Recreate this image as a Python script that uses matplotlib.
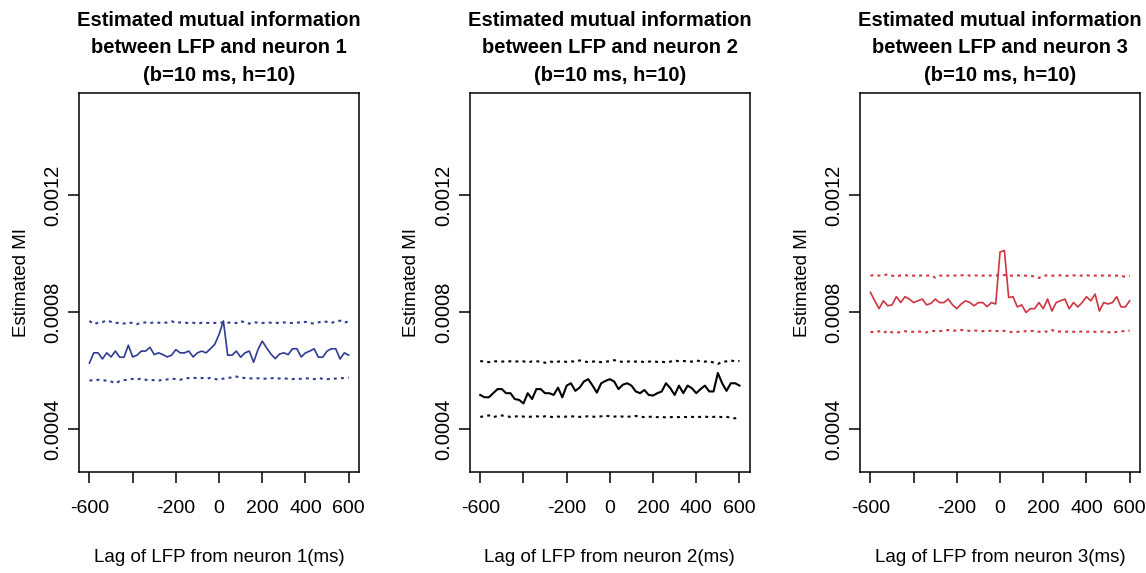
import numpy as np
import matplotlib
matplotlib.use("Agg")
import matplotlib.pyplot as plt

plt.rcParams["font.family"] = ["Liberation Sans", "DejaVu Sans"]

# lag grid (ms)
lags = np.arange(-600, 601, 20)

# neuron 1: estimated MI and the two surrogate bounds
mi_n1 = [0.000625, 0.000660, 0.000660, 0.000639, 0.000660, 0.000646, 0.000666, 0.000645, 0.000645, 0.000686,
         0.000646, 0.000652, 0.000666, 0.000666, 0.000679, 0.000654, 0.000660, 0.000654, 0.000646, 0.000652,
         0.000671, 0.000660, 0.000660, 0.000666, 0.000646, 0.000660, 0.000666, 0.000660, 0.000674, 0.000689,
         0.000723, 0.000769, 0.000652, 0.000652, 0.000666, 0.000645, 0.000660, 0.000666, 0.000628, 0.000671,
         0.000700, 0.000677, 0.000656, 0.000640, 0.000656, 0.000660, 0.000654, 0.000674, 0.000674, 0.000646,
         0.000660, 0.000666, 0.000674, 0.000645, 0.000645, 0.000666, 0.000674, 0.000674, 0.000639, 0.000660,
         0.000652]
hi_n1 = [0.000769, 0.000758, 0.000763, 0.000765, 0.000771, 0.000766, 0.000762, 0.000763, 0.000760, 0.000764,
         0.000762, 0.000758, 0.000763, 0.000764, 0.000762, 0.000764, 0.000763, 0.000762, 0.000764, 0.000768,
         0.000763, 0.000764, 0.000763, 0.000762, 0.000763, 0.000760, 0.000763, 0.000762, 0.000763, 0.000762,
         0.000764, 0.000763, 0.000763, 0.000764, 0.000762, 0.000769, 0.000763, 0.000760, 0.000765, 0.000763,
         0.000762, 0.000764, 0.000763, 0.000763, 0.000762, 0.000764, 0.000763, 0.000762, 0.000764, 0.000763,
         0.000766, 0.000762, 0.000760, 0.000764, 0.000768, 0.000766, 0.000762, 0.000768, 0.000770, 0.000763,
         0.000768]
lo_n1 = [0.000565, 0.000567, 0.000568, 0.000566, 0.000565, 0.000562, 0.000556, 0.000563, 0.000567, 0.000568,
         0.000571, 0.000569, 0.000572, 0.000568, 0.000566, 0.000567, 0.000565, 0.000568, 0.000569, 0.000572,
         0.000570, 0.000568, 0.000572, 0.000574, 0.000575, 0.000573, 0.000574, 0.000572, 0.000574, 0.000571,
         0.000568, 0.000572, 0.000574, 0.000576, 0.000579, 0.000575, 0.000574, 0.000573, 0.000572, 0.000573,
         0.000571, 0.000572, 0.000573, 0.000574, 0.000572, 0.000573, 0.000571, 0.000570, 0.000572, 0.000571,
         0.000573, 0.000572, 0.000570, 0.000574, 0.000571, 0.000570, 0.000571, 0.000572, 0.000573, 0.000574,
         0.000575]

# neuron 2
mi_n2 = [0.000516, 0.000508, 0.000508, 0.000522, 0.000536, 0.000536, 0.000522, 0.000522, 0.000502, 0.000499,
         0.000487, 0.000522, 0.000502, 0.000536, 0.000536, 0.000522, 0.000522, 0.000516, 0.000541, 0.000508,
         0.000548, 0.000556, 0.000530, 0.000541, 0.000562, 0.000570, 0.000548, 0.000524, 0.000556, 0.000564,
         0.000570, 0.000562, 0.000536, 0.000551, 0.000556, 0.000548, 0.000528, 0.000522, 0.000533, 0.000516,
         0.000514, 0.000522, 0.000528, 0.000556, 0.000539, 0.000516, 0.000548, 0.000522, 0.000548, 0.000539,
         0.000522, 0.000536, 0.000548, 0.000528, 0.000528, 0.000591, 0.000556, 0.000530, 0.000556, 0.000556,
         0.000548]
hi_n2 = [0.000632, 0.000630, 0.000628, 0.000631, 0.000631, 0.000630, 0.000631, 0.000631, 0.000630, 0.000631,
         0.000631, 0.000627, 0.000631, 0.000631, 0.000630, 0.000626, 0.000631, 0.000628, 0.000630, 0.000631,
         0.000629, 0.000631, 0.000630, 0.000634, 0.000631, 0.000628, 0.000630, 0.000631, 0.000628, 0.000630,
         0.000631, 0.000635, 0.000631, 0.000629, 0.000630, 0.000631, 0.000630, 0.000631, 0.000628, 0.000630,
         0.000631, 0.000629, 0.000630, 0.000627, 0.000630, 0.000634, 0.000631, 0.000632, 0.000631, 0.000630,
         0.000634, 0.000631, 0.000630, 0.000631, 0.000627, 0.000622, 0.000629, 0.000631, 0.000634, 0.000631,
         0.000632]
lo_n2 = [0.000441, 0.000443, 0.000446, 0.000440, 0.000444, 0.000446, 0.000443, 0.000441, 0.000442, 0.000444,
         0.000442, 0.000441, 0.000442, 0.000443, 0.000441, 0.000443, 0.000442, 0.000440, 0.000442, 0.000441,
         0.000442, 0.000443, 0.000442, 0.000441, 0.000442, 0.000443, 0.000442, 0.000441, 0.000443, 0.000445,
         0.000443, 0.000442, 0.000443, 0.000442, 0.000441, 0.000443, 0.000444, 0.000442, 0.000440, 0.000441,
         0.000442, 0.000440, 0.000441, 0.000439, 0.000440, 0.000441, 0.000440, 0.000441, 0.000440, 0.000441,
         0.000440, 0.000441, 0.000442, 0.000440, 0.000441, 0.000442, 0.000440, 0.000441, 0.000438, 0.000436,
         0.000440]

# neuron 3
mi_n3 = [0.000867, 0.000838, 0.000811, 0.000838, 0.000821, 0.000824, 0.000852, 0.000832, 0.000852, 0.000844,
         0.000832, 0.000838, 0.000844, 0.000824, 0.000829, 0.000844, 0.000832, 0.000832, 0.000844, 0.000824,
         0.000811, 0.000827, 0.000838, 0.000832, 0.000821, 0.000832, 0.000832, 0.000818, 0.000832, 0.000827,
         0.001005, 0.001010, 0.000849, 0.000852, 0.000817, 0.000824, 0.000798, 0.000811, 0.000811, 0.000832,
         0.000811, 0.000844, 0.000803, 0.000832, 0.000838, 0.000844, 0.000811, 0.000832, 0.000817, 0.000832,
         0.000852, 0.000838, 0.000861, 0.000803, 0.000832, 0.000827, 0.000832, 0.000852, 0.000817, 0.000817,
         0.000838]
hi_n3 = [0.000924, 0.000926, 0.000924, 0.000925, 0.000929, 0.000924, 0.000921, 0.000925, 0.000926, 0.000923,
         0.000924, 0.000925, 0.000924, 0.000924, 0.000925, 0.000917, 0.000924, 0.000924, 0.000924, 0.000925,
         0.000924, 0.000925, 0.000926, 0.000924, 0.000925, 0.000924, 0.000924, 0.000925, 0.000924, 0.000925,
         0.000924, 0.000926, 0.000924, 0.000924, 0.000925, 0.000924, 0.000924, 0.000925, 0.000920, 0.000916,
         0.000924, 0.000925, 0.000924, 0.000924, 0.000925, 0.000924, 0.000923, 0.000925, 0.000924, 0.000924,
         0.000925, 0.000924, 0.000924, 0.000925, 0.000924, 0.000924, 0.000925, 0.000924, 0.000923, 0.000920,
         0.000924]
lo_n3 = [0.000732, 0.000730, 0.000734, 0.000728, 0.000736, 0.000730, 0.000728, 0.000732, 0.000734, 0.000732,
         0.000732, 0.000733, 0.000732, 0.000730, 0.000734, 0.000735, 0.000734, 0.000737, 0.000738, 0.000735,
         0.000737, 0.000738, 0.000736, 0.000735, 0.000737, 0.000735, 0.000734, 0.000736, 0.000735, 0.000734,
         0.000736, 0.000735, 0.000733, 0.000730, 0.000732, 0.000733, 0.000734, 0.000734, 0.000736, 0.000732,
         0.000734, 0.000732, 0.000738, 0.000732, 0.000733, 0.000732, 0.000733, 0.000732, 0.000732, 0.000733,
         0.000732, 0.000733, 0.000732, 0.000732, 0.000733, 0.000731, 0.000728, 0.000732, 0.000733, 0.000735,
         0.000736]

neurons = ["1", "2", "3"]
mi_series = [mi_n1, mi_n2, mi_n3]
hi_series = [hi_n1, hi_n2, hi_n3]
lo_series = [lo_n1, lo_n2, lo_n3]
colors = ["#2e3a93", "black", "#cf3440"]

x_ticks = [-600, -400, -200, 0, 200, 400, 600]
x_tick_labels = ["-600", "", "-200", "0", "200", "400", "600"]
y_ticks = [0.0004, 0.0008, 0.0012]
y_tick_labels = ["0.0004", "0.0008", "0.0012"]

fig = plt.figure(figsize=(11.46, 5.73), dpi=100)
lefts = [0.069, 0.410, 0.7505]

for k in range(3):
    ax = fig.add_axes([lefts[k], 0.176, 0.2443, 0.6614])
    c = colors[k]
    lw = 1.2 if k != 1 else 1.5
    ax.plot(lags, mi_series[k], color=c, lw=lw)
    ax.plot(lags, hi_series[k], color=c, lw=1.5, linestyle=(0, (1.4, 2.0)))
    ax.plot(lags, lo_series[k], color=c, lw=1.5, linestyle=(0, (1.4, 2.0)))

    ax.set_xlim(-648, 648)
    ax.set_ylim(0.000252, 0.001548)
    ax.set_xticks(x_ticks)
    ax.set_xticklabels(x_tick_labels, fontsize=14)
    ax.set_yticks(y_ticks)
    ax.set_yticklabels(y_tick_labels, fontsize=14.5, rotation=90, va="center")
    ax.tick_params(direction="out", length=8, width=1.1)
    ax.tick_params(axis="x", pad=12)
    ax.tick_params(axis="y", pad=4)
    for s in ax.spines.values():
        s.set_linewidth(1.1)

    ax.set_title("Estimated mutual information\nbetween LFP and neuron %s\n(b=10 ms, h=10)" % neurons[k],
                 fontsize=14.5, fontweight="bold", linespacing=1.56, pad=9)
    ax.set_xlabel("Lag of LFP from neuron %s(ms)" % neurons[k], fontsize=13.5, labelpad=23)
    ax.set_ylabel("Estimated MI", fontsize=13.5, labelpad=10)

fig.savefig("out.png", dpi=100)
